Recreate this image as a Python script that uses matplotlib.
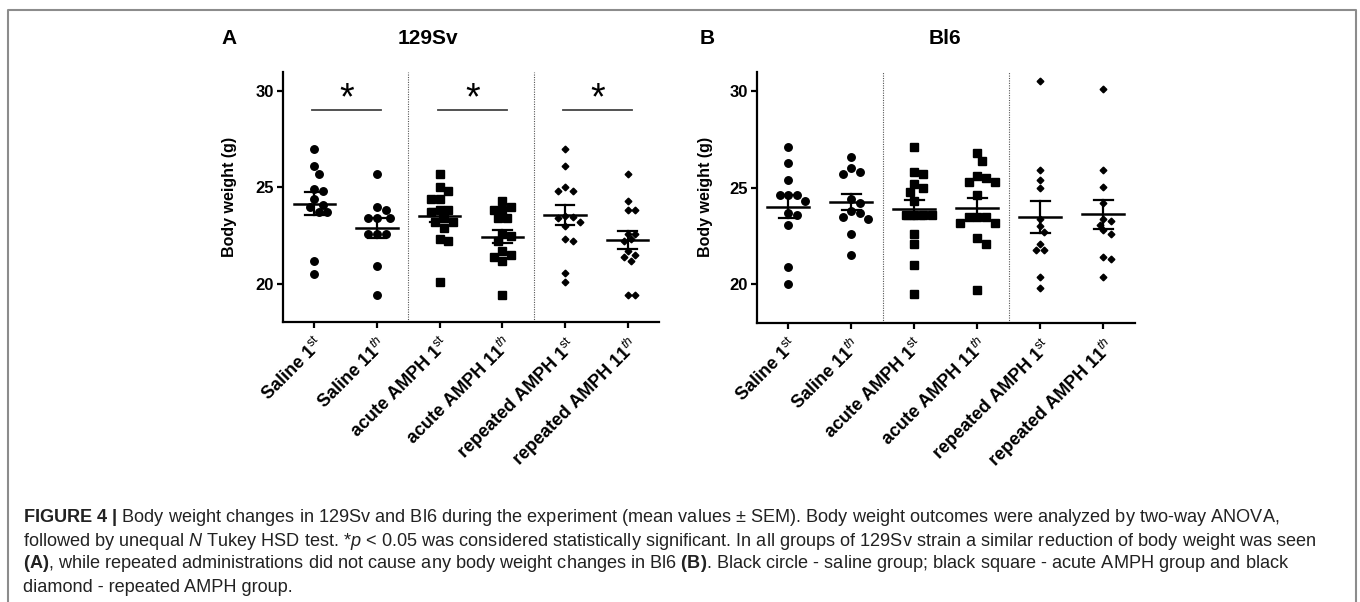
import matplotlib
matplotlib.use("Agg")
import matplotlib.pyplot as plt
import numpy as np
from matplotlib.lines import Line2D

plt.rcParams['font.family'] = ['Liberation Sans', 'DejaVu Sans']
plt.rcParams['mathtext.fontset'] = 'custom'
plt.rcParams['mathtext.rm'] = 'Liberation Sans'
plt.rcParams['mathtext.it'] = 'Liberation Sans:italic'
plt.rcParams['mathtext.bf'] = 'Liberation Sans:bold'

################################

groups = [r"Saline 1$^{\mathrm{st}}$", r"Saline 11$^{\mathit{th}}$",
          r"acute AMPH 1$^{\mathrm{st}}$", r"acute AMPH 11$^{\mathit{th}}$",
          r"repeated AMPH 1$^{\mathrm{st}}$", r"repeated AMPH 11$^{\mathit{th}}$"]
markers = ["o", "o", "s", "s", "D", "D"]

# 129Sv (panel A)
sv_saline_1 = [27.0, 26.1, 25.7, 24.9, 24.8, 24.4, 24.1, 24.0, 23.7, 23.7, 21.2, 20.5]
sv_saline_11 = [25.7, 24.0, 23.8, 23.4, 23.4, 23.4, 22.6, 22.6, 22.6, 20.9, 19.4]
sv_acute_1 = [25.7, 25.0, 24.8, 24.4, 24.4, 23.8, 23.8, 23.7, 23.4, 23.2, 23.2, 22.9, 22.3, 22.2, 20.1]
sv_acute_11 = [24.3, 24.0, 23.8, 23.8, 23.4, 23.4, 22.6, 22.5, 22.2, 21.7, 21.5, 21.4, 21.2, 19.4]
sv_rep_1 = [27.0, 26.1, 25.0, 24.8, 24.8, 23.5, 23.45, 23.4, 23.2, 23.0, 22.3, 22.2, 20.55, 20.1]
sv_rep_11 = [25.7, 24.3, 23.8, 23.8, 22.6, 22.6, 22.3, 22.2, 21.7, 21.5, 21.4, 21.2, 19.4, 19.4]
sv_mean = [24.16, 22.88, 23.54, 22.44, 23.55, 22.27]
sv_sem = [0.61, 0.52, 0.35, 0.35, 0.52, 0.48]

# Bl6 (panel B)
bl_saline_1 = [27.1, 26.3, 25.4, 24.6, 24.6, 24.6, 24.3, 23.7, 23.6, 23.1, 20.9, 20.0]
bl_saline_11 = [26.6, 26.0, 25.7, 25.8, 24.4, 24.2, 23.7, 23.8, 23.4, 23.5, 22.6, 21.5]
bl_acute_1 = [27.1, 25.8, 25.7, 25.2, 25.0, 24.8, 24.3, 23.6, 23.6, 23.6, 23.6, 22.6, 22.1, 21.0, 19.5]
bl_acute_11 = [26.8, 26.4, 25.6, 25.5, 25.3, 25.3, 24.6, 23.5, 23.5, 23.5, 23.2, 23.2, 22.4, 22.1, 19.7]
bl_rep_1 = [30.5, 25.9, 25.4, 25.0, 23.4, 23.0, 22.7, 22.1, 21.8, 21.8, 20.4, 19.8]
bl_rep_11 = [30.1, 25.9, 25.05, 24.2, 23.4, 23.3, 23.1, 22.8, 22.6, 21.4, 21.3, 20.4]
bl_mean = [24.03, 24.26, 23.88, 23.97, 23.48, 23.62]
bl_sem = [0.58, 0.43, 0.47, 0.50, 0.82, 0.77]

# significant pairs in 129Sv
sig_pairs = [(0, 1), (2, 3), (4, 5)]

caption = [
    r"$\bf{FIGURE\ 4\ |}$ Body weight changes in 129Sv and Bl6 during the experiment (mean values ± SEM). Body weight outcomes were analyzed by two-way ANOVA,",
    r"followed by unequal $\it{N}$ Tukey HSD test. *$\it{p}$ < 0.05 was considered statistically significant. In all groups of 129Sv strain a similar reduction of body weight was seen",
    r"$\bf{(A)}$, while repeated administrations did not cause any body weight changes in Bl6 $\bf{(B)}$. Black circle - saline group; black square - acute AMPH group and black",
    r"diamond - repeated AMPH group.",
]

################################


def swarm(vals, diam, px_x=62.6, px_y=19.3):
    # simple beeswarm: push overlapping points sideways
    vals = np.asarray(vals)
    offs = np.zeros(len(vals))
    placed = []
    steps = [0.0] + [s * k * diam * 0.55 for k in range(1, 20) for s in (1, -1)]
    for i in np.argsort(vals)[::-1]:
        y = vals[i] * px_y
        for c in steps:
            if all((c - px) ** 2 + (y - py) ** 2 >= diam ** 2 for px, py in placed):
                break
        placed.append((c, y))
        offs[i] = c / px_x
    return offs


def draw_panel(ax, data, means, sems):
    for i, vals in enumerate(data):
        ms = 5.4 if markers[i] != "D" else 3.4
        diam = 7.8 if markers[i] != "D" else 6.8
        xs = i + swarm(vals, diam)
        ax.plot(xs, vals, linestyle="none", marker=markers[i], ms=ms,
                color="black", mec="black", zorder=3)
        ax.plot([i - 0.33, i + 0.33], [means[i], means[i]], color="black", lw=1.8, zorder=4)
        ax.plot([i, i], [means[i] - sems[i], means[i] + sems[i]], color="black", lw=1.6, zorder=4)
        for v in (means[i] - sems[i], means[i] + sems[i]):
            ax.plot([i - 0.15, i + 0.15], [v, v], color="black", lw=1.6, zorder=4)
    for xv in (1.5, 3.5):
        ax.axvline(xv, color="#555555", lw=0.8, linestyle=(0, (1, 1.2)), zorder=1)
    ax.set_xlim(-0.5, 5.5)
    ax.set_ylim(18, 31)
    ax.set_yticks([20, 25, 30])
    ax.set_xticks(np.arange(len(groups)))
    ax.set_xticklabels(groups, rotation=45, ha="right", rotation_mode="anchor",
                       fontsize=13, fontweight="bold")
    for lab in ax.get_yticklabels():
        lab.set_fontsize(12)
        lab.set_fontweight("bold")
    ax.spines["top"].set_visible(False)
    ax.spines["right"].set_visible(False)
    ax.spines["left"].set_linewidth(1.6)
    ax.spines["bottom"].set_linewidth(1.6)
    ax.tick_params(axis="both", width=1.6, length=4.5, pad=2)
    ax.tick_params(axis="x", pad=4)
    ax.set_ylabel("Body weight (g)", fontsize=11.5, fontweight="bold")


fig = plt.figure(figsize=(13.6, 6.02), dpi=100)
axA = fig.add_axes([0.2081, 0.4646, 0.2765, 0.4163])
axB = fig.add_axes([0.5564, 0.4632, 0.2780, 0.4177])

draw_panel(axA, [sv_saline_1, sv_saline_11, sv_acute_1, sv_acute_11, sv_rep_1, sv_rep_11],
           sv_mean, sv_sem)
draw_panel(axB, [bl_saline_1, bl_saline_11, bl_acute_1, bl_acute_11, bl_rep_1, bl_rep_11],
           bl_mean, bl_sem)
axA.yaxis.set_label_coords(-0.122, 0.5)
axB.yaxis.set_label_coords(-0.116, 0.5)

for a, b in sig_pairs:
    axA.plot([a - 0.03, b + 0.07], [29.0, 29.0], color="#444444", lw=1.3)
    axA.text((a + b) / 2 + 0.02, 29.55, "*", ha="center", va="center", fontsize=27)

# panel letters and titles
fig.text(229 / 1360, 1 - 38 / 602, "A", fontsize=15, fontweight="bold", ha="center", va="center")
fig.text(428 / 1360, 1 - 38 / 602, "129Sv", fontsize=15, fontweight="bold", ha="center", va="center")
fig.text(707 / 1360, 1 - 38 / 602, "B", fontsize=15, fontweight="bold", ha="center", va="center")
fig.text(945 / 1360, 1 - 38 / 602, "Bl6", fontsize=15, fontweight="bold", ha="center", va="center")

# caption
for k, line in enumerate(caption):
    fig.text(22.7 / 1360, 1 - (518 + 23 * k) / 602, line, fontsize=13.1, color="#222222",
             ha="left", va="center")

# frame around figure
bx0, bx1, by1 = 8 / 1360, 1356 / 1360, 1 - 10 / 602
fig.add_artist(Line2D([bx0, bx0, bx1, bx1], [0, by1, by1, 0], color="#8c8c8c", lw=1.5,
                      transform=fig.transFigure))

fig.savefig("out.png", dpi=100)
